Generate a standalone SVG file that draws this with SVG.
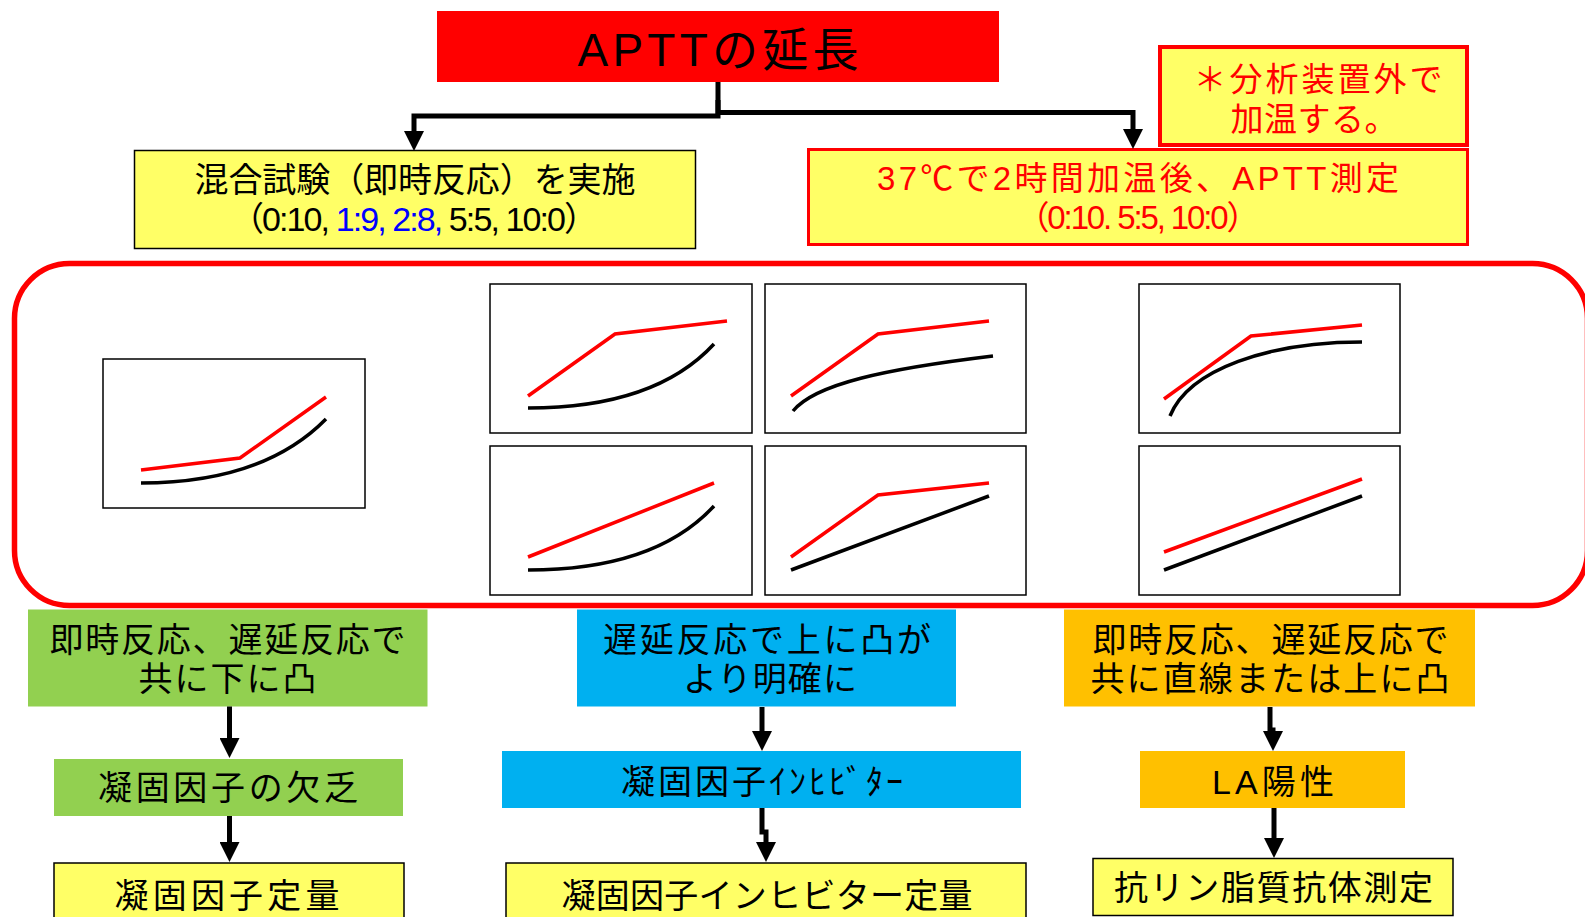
<svg xmlns="http://www.w3.org/2000/svg" width="1585" height="917" viewBox="0 0 1585 917">
<defs>
<style>
text{font-family:"Liberation Sans","Noto Sans CJK JP",sans-serif;text-anchor:middle;}
.t{font-size:34px;fill:#000;}
.tr{font-size:33px;fill:#FF0000;}
.yel{fill:#FFFF66;stroke:#000;stroke-width:1.5;}
.grn{fill:#92D050;}
.blu{fill:#00B0F0;}
.org{fill:#FFC000;}
.chart{fill:#fff;stroke:#000;stroke-width:1.5;}
.rc{fill:none;stroke:#FF0000;stroke-width:3.5;}
.bc{fill:none;stroke:#000;stroke-width:3.5;}
.conn{fill:none;stroke:#000;stroke-width:5;marker-end:url(#ah);}
</style>
<marker id="ah" markerUnits="userSpaceOnUse" markerWidth="20" markerHeight="20" refX="0" refY="10" orient="auto" viewBox="0 0 20 20">
<path d="M0,0 L20,10 L0,20 z" fill="#000"/>
</marker>
</defs>
<rect width="1585" height="917" fill="#fff"/>

<g id="title">
<rect x="437" y="11" width="562" height="71" fill="#FF0000"/>
<text x="718" y="66" style="font-size:46px" textLength="281">APTTの延長</text>
</g>

<g id="note">
<rect x="1160" y="47" width="307" height="98" fill="#FFFF66" stroke="#FF0000" stroke-width="4"/>
<text class="tr" x="1318" y="91" textLength="249">＊分析装置外で</text>
<text class="tr" x="1314" y="131" textLength="167">加温する。</text>
</g>

<g id="mix">
<rect class="yel" x="134.5" y="150.5" width="561" height="98"/>
<text class="t" x="415" y="192" textLength="441">混合試験（即時反応）を実施</text>
<text class="t" x="414" y="231" textLength="368">（0:10, <tspan fill="#0000FF">1:9, 2:8,</tspan> 5:5, 10:0）</text>
</g>

<g id="warm">
<rect x="808.5" y="149.5" width="659" height="95" fill="#FFFF66" stroke="#FF0000" stroke-width="3"/>
<text class="tr" x="1138" y="190" textLength="522">37℃で2時間加温後、APTT測定</text>
<text class="tr" x="1138" y="229" textLength="243">（0:10. 5:5, 10:0）</text>
</g>

<g id="curves">
<rect x="14.5" y="263.5" width="1573" height="342" rx="55" ry="55" fill="none" stroke="#FF0000" stroke-width="5.5"/>
<g id="chartA" transform="translate(103,359)">
<rect class="chart" width="262" height="149"/>
<polyline class="rc" points="38,111 137,99 223,38"/>
<path class="bc" d="M38,124 Q160,124 223,60"/>
</g>
<g id="chartB1" transform="translate(490,284)">
<rect class="chart" width="262" height="149"/>
<polyline class="rc" points="38,112 125,50 237,37"/>
<path class="bc" d="M38,124 Q165,124 224,60"/>
</g>
<g id="chartB2" transform="translate(765,284)">
<rect class="chart" width="261" height="149"/>
<polyline class="rc" points="26,112 113,50 224,37"/>
<path class="bc" d="M28,127 C50,100 120,85 228,72"/>
</g>
<g id="chartB3" transform="translate(490,446)">
<rect class="chart" width="262" height="149"/>
<polyline class="rc" points="38,111 224,37"/>
<path class="bc" d="M38,124 Q165,124 224,60"/>
</g>
<g id="chartB4" transform="translate(765,446)">
<rect class="chart" width="261" height="149"/>
<polyline class="rc" points="26,111 113,49 224,37"/>
<polyline class="bc" points="26,124 224,50"/>
</g>
<g id="chartC1" transform="translate(1139,284)">
<rect class="chart" width="261" height="149"/>
<polyline class="rc" points="25,115 112,52 223,41"/>
<path class="bc" d="M31,132 C50,85 130,58 223,58"/>
</g>
<g id="chartC2" transform="translate(1139,446)">
<rect class="chart" width="261" height="149"/>
<polyline class="rc" points="25,106 223,33"/>
<polyline class="bc" points="25,124 223,50"/>
</g>
</g>

<g id="g1">
<rect class="grn" x="28" y="609.5" width="399.5" height="97"/>
<text class="t" x="227.5" y="652" textLength="356">即時反応、遅延反応で</text>
<text class="t" x="227.5" y="691" textLength="178">共に下に凸</text>
</g>
<g id="g2">
<rect class="grn" x="54" y="759" width="349" height="57"/>
<text class="t" x="228" y="800" textLength="260">凝固因子の欠乏</text>
</g>
<g id="g3">
<rect class="yel" x="54" y="863" width="350" height="60"/>
<text class="t" x="227" y="908" textLength="225">凝固因子定量</text>
</g>

<g id="b1">
<rect class="blu" x="577" y="609.5" width="379" height="97"/>
<text class="t" x="767" y="652" textLength="328">遅延反応で上に凸が</text>
<text class="t" x="770" y="691" textLength="174">より明確に</text>
</g>
<g id="b2">
<rect class="blu" x="502" y="751" width="519" height="57"/>
<text class="t" x="762" y="794" textLength="282">凝固因子ｲﾝﾋﾋﾞﾀｰ</text>
</g>
<g id="b3">
<rect class="yel" x="506" y="863" width="520" height="60"/>
<text class="t" x="767" y="908" textLength="411">凝固因子インヒビター定量</text>
</g>

<g id="o1">
<rect class="org" x="1064" y="609.5" width="411" height="97"/>
<text class="t" x="1270.5" y="652" textLength="356">即時反応、遅延反応で</text>
<text class="t" x="1270" y="691" textLength="359">共に直線または上に凸</text>
</g>
<g id="o2">
<rect class="org" x="1140" y="751" width="265" height="57"/>
<text class="t" x="1273" y="794" textLength="122">LA陽性</text>
</g>
<g id="o3">
<rect class="yel" x="1093" y="858.5" width="360" height="57"/>
<text class="t" x="1273.5" y="900" textLength="319">抗リン脂質抗体測定</text>
</g>

<g id="connectors">
<path class="conn" d="M718,82 V116 H414 V131"/>
<path class="conn" d="M718,100 V112.5 H1133 V129"/>
<path class="conn" d="M229.5,706.5 V738"/>
<path class="conn" d="M229.5,816 V842"/>
<path class="conn" d="M762,707 V731"/>
<path class="conn" d="M762,808 V832 H766 V842"/>
<path class="conn" d="M1270,707 V730 H1273 V731"/>
<path class="conn" d="M1274,808 V838"/>
</g>
</svg>
